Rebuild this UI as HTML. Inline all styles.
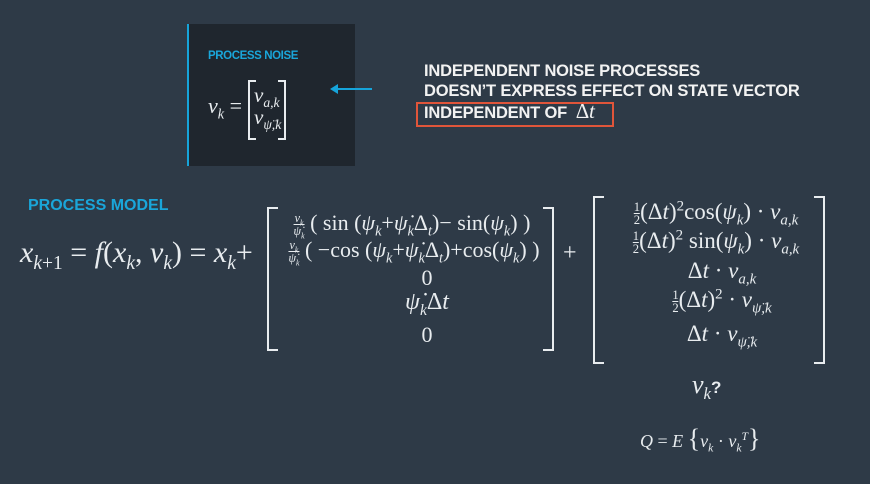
<!DOCTYPE html>
<html><head><meta charset="utf-8"><style>
html,body{margin:0;padding:0}
body{width:870px;height:484px;background:#2e3a47;position:relative;overflow:hidden;font-family:"Liberation Serif",serif;color:#e8ecef}
.a{position:absolute;white-space:nowrap}
.s{font-family:"Liberation Sans",sans-serif;font-weight:bold}
i{font-style:italic}
sub,sup{font-size:65%;line-height:0}
.c{text-align:center;transform:translateX(-50%)}
.br{position:absolute;border:2px solid #e8ecef}
.fr{display:inline-block;vertical-align:middle;text-align:center;font-size:55%;line-height:1}
.fr span{display:block}
.fr span:first-child{border-bottom:1px solid #e8ecef}
</style></head><body>
<div class="a" style="left:187px;top:24px;width:166px;height:142px;background:#1f262e;border-left:2px solid #16a4da"></div>
<div class="a s" style="left:208px;top:50px;font-size:11.5px;letter-spacing:-0.4px;color:#1aa6da">PROCESS NOISE</div>
<div class="a" style="left:208px;top:93px;font-size:22px"><i>ν</i><sub><i>k</i></sub> =</div>
<div class="br" style="left:248px;top:80px;width:6px;height:56px;border-right:none"></div>
<div class="br" style="left:278px;top:80px;width:6px;height:56px;border-left:none"></div>
<div class="a" style="left:254px;top:83px;font-size:21px"><i>ν</i><sub><i>a,k</i></sub></div>
<div class="a" style="left:254px;top:105px;font-size:21px"><i>ν</i><sub><i>ψ̈,k</i></sub></div>
<div class="a" style="left:336px;top:88px;width:36px;height:2px;background:#16a4da"></div>
<div class="a" style="left:330px;top:84px;width:0;height:0;border-top:5px solid transparent;border-bottom:5px solid transparent;border-right:8px solid #16a4da"></div>
<div class="a s" style="left:424px;top:61px;font-size:16.5px;line-height:20px;letter-spacing:-0.2px;color:#f2f2f2">INDEPENDENT NOISE PROCESSES<br>DOESN’T EXPRESS EFFECT ON STATE VECTOR<br>INDEPENDENT OF&nbsp; <span style="font-family:'Liberation Serif',serif;font-weight:normal;font-size:21px">Δ<i>t</i></span></div>
<div class="a" style="left:416px;top:102px;width:194px;height:21px;border:2px solid #e0553a"></div>
<div class="a s" style="left:28px;top:197px;font-size:16px;color:#1aa6da">PROCESS MODEL</div>
<div class="a" style="left:20px;top:236px;font-size:30px"><i>x</i><sub><i>k</i>+1</sub> = <i>f</i>(<i>x</i><sub><i>k</i></sub>, <i>ν</i><sub><i>k</i></sub>) = <i>x</i><sub><i>k</i></sub>+</div>
<div class="br" style="left:267px;top:207px;width:9px;height:140px;border-right:none"></div>
<div class="br" style="left:543px;top:207px;width:9px;height:140px;border-left:none"></div>
<div class="a c" style="left:412px;top:210px;font-size:22px"><span class="fr"><span><i>v</i><sub><i>k</i></sub></span><span><i>ψ̇</i><sub><i>k</i></sub></span></span> ( sin (<i>ψ</i><sub><i>k</i></sub>+<i>ψ̇</i><sub><i>k</i></sub>Δ<sub><i>t</i></sub>)− sin(<i>ψ</i><sub><i>k</i></sub>) )</div>
<div class="a c" style="left:414px;top:237px;font-size:22px"><span class="fr"><span><i>v</i><sub><i>k</i></sub></span><span><i>ψ̇</i><sub><i>k</i></sub></span></span> ( −cos (<i>ψ</i><sub><i>k</i></sub>+<i>ψ̇</i><sub><i>k</i></sub>Δ<sub><i>t</i></sub>)+cos(<i>ψ</i><sub><i>k</i></sub>) )</div>
<div class="a c" style="left:427px;top:265px;font-size:22px">0</div>
<div class="a c" style="left:427px;top:289px;font-size:24px"><i>ψ̇</i><sub><i>k</i></sub>Δ<i>t</i></div>
<div class="a c" style="left:427px;top:322px;font-size:22px">0</div>
<div class="a" style="left:563px;top:240px;font-size:24px">+</div>
<div class="br" style="left:593px;top:196px;width:9px;height:164px;border-right:none"></div>
<div class="br" style="left:814px;top:196px;width:9px;height:164px;border-left:none"></div>
<div class="a c" style="left:716px;top:199px;font-size:23px"><span class="fr"><span>1</span><span>2</span></span>(Δ<i>t</i>)<sup>2</sup>cos(<i>ψ</i><sub><i>k</i></sub>) · <i>ν</i><sub><i>a,k</i></sub></div>
<div class="a c" style="left:716px;top:228px;font-size:23px"><span class="fr"><span>1</span><span>2</span></span>(Δ<i>t</i>)<sup>2</sup> sin(<i>ψ</i><sub><i>k</i></sub>) · <i>ν</i><sub><i>a,k</i></sub></div>
<div class="a c" style="left:722px;top:258px;font-size:23px">Δ<i>t</i> · <i>ν</i><sub><i>a,k</i></sub></div>
<div class="a c" style="left:722px;top:287px;font-size:23px"><span class="fr"><span>1</span><span>2</span></span>(Δ<i>t</i>)<sup>2</sup> · <i>ν</i><sub><i>ψ̈,k</i></sub></div>
<div class="a c" style="left:722px;top:321px;font-size:23px">Δ<i>t</i> · <i>ν</i><sub><i>ψ̈,k</i></sub></div>
<div class="a" style="left:692px;top:370px;font-size:26px"><i>ν</i><sub><i>k</i></sub><span class="s" style="font-size:17px">?</span></div>
<div class="a" style="left:640px;top:424px;font-size:18px"><i>Q</i> = <i>E</i> <span style="font-size:26px">{</span><i>ν</i><sub><i>k</i></sub> · <i>ν</i><sub><i>k</i></sub><sup><i>T</i></sup><span style="font-size:26px">}</span></div>
</body></html>
